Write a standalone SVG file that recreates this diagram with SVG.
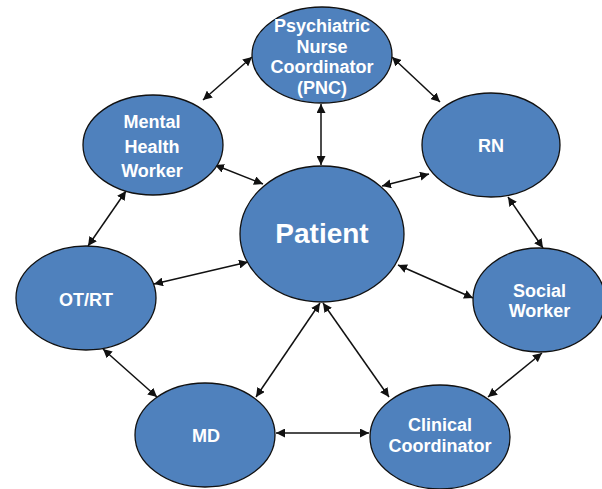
<svg xmlns="http://www.w3.org/2000/svg" width="602" height="489" viewBox="0 0 602 489">
<style>
.n{fill:#4f81bd;stroke:#111;stroke-width:1.3}
.t{font-family:"Liberation Sans",Arial,sans-serif;font-weight:bold;font-size:18px;fill:#fff;text-anchor:middle}
.c line{stroke:#111;stroke-width:1.5;marker-start:url(#a);marker-end:url(#a)}
</style>
<defs>
<marker id="a" viewBox="0 0 10 10" refX="10" refY="5" markerWidth="9" markerHeight="9" markerUnits="userSpaceOnUse" orient="auto-start-reverse">
<path d="M0,0 L10,5 L0,10 Z" fill="#111"/>
</marker>
</defs>
<rect width="602" height="489" fill="#fff"/>
<g class="c" id="connectors">
<line x1="252" y1="57" x2="203" y2="100"/>
<line x1="392" y1="57" x2="440" y2="102"/>
<line x1="321" y1="104" x2="321" y2="165"/>
<line x1="215" y1="165" x2="263" y2="184"/>
<line x1="429" y1="174" x2="382" y2="186"/>
<line x1="126" y1="191" x2="88" y2="246"/>
<line x1="508" y1="197" x2="543" y2="248"/>
<line x1="154" y1="284" x2="248" y2="262"/>
<line x1="473" y1="298" x2="398" y2="265"/>
<line x1="103" y1="349" x2="157" y2="397"/>
<line x1="542" y1="353" x2="488" y2="397"/>
<line x1="320" y1="303" x2="256" y2="397"/>
<line x1="323" y1="303" x2="389" y2="397"/>
<line x1="276" y1="433" x2="369" y2="433"/>
</g>
<g id="pnc"><ellipse class="n" cx="322" cy="55" rx="70" ry="48"/>
<text class="t" x="322" y="32">Psychiatric</text><text class="t" x="322" y="52.5">Nurse</text><text class="t" x="322" y="73">Coordinator</text><text class="t" x="322" y="93.5">(PNC)</text></g>
<g id="mhw"><ellipse class="n" cx="153" cy="145" rx="70" ry="50"/>
<text class="t" x="152" y="128">Mental</text><text class="t" x="152" y="153">Health</text><text class="t" x="152" y="177">Worker</text></g>
<g id="rn"><ellipse class="n" cx="491" cy="145" rx="69" ry="52"/>
<text class="t" x="491" y="152">RN</text></g>
<g id="patient"><ellipse class="n" cx="322" cy="234" rx="82" ry="68"/>
<text class="t" x="322" y="243" style="font-size:28px">Patient</text></g>
<g id="otrt"><ellipse class="n" cx="86" cy="298" rx="70" ry="52"/>
<text class="t" x="86" y="306">OT/RT</text></g>
<g id="social"><ellipse class="n" cx="539" cy="300" rx="66" ry="52"/>
<text class="t" x="539.5" y="297">Social</text><text class="t" x="539.5" y="317">Worker</text></g>
<g id="md"><ellipse class="n" cx="205" cy="435" rx="70" ry="52"/>
<text class="t" x="206" y="442">MD</text></g>
<g id="clinical"><ellipse class="n" cx="440" cy="437" rx="70" ry="52"/>
<text class="t" x="440" y="431">Clinical</text><text class="t" x="440" y="452">Coordinator</text></g>
</svg>
